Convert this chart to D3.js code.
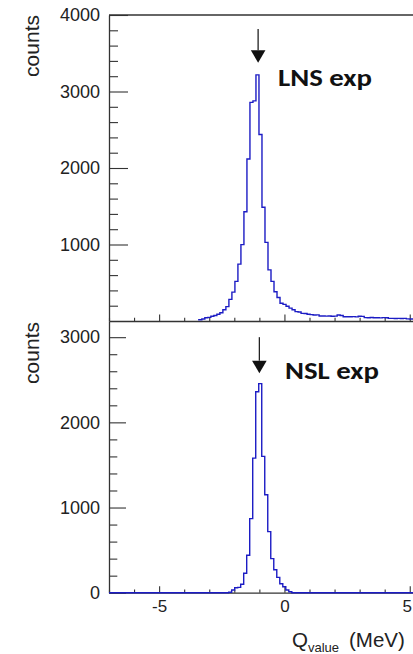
<!DOCTYPE html>
<html>
<head>
<meta charset="utf-8">
<script src="https://cdn.jsdelivr.net/npm/d3@7"></script>
<style>
  body { margin: 0; background: #fff; }
  svg { display: block; }
  .tick text { fill: #222; }
</style>
</head>
<body>
<div id="chart-area"></div>
<script>
// Q-value histograms, two panels sharing the x axis
const BIN_WIDTH = 0.12  // MeV

// top panel (LNS)
const lnsStart = -3.416
const lnsCounts = [8, 18, 35, 40, 55, 65, 80, 100, 140, 180, 275, 370, 510, 735, 990, 1420,
  2110, 2850, 2870, 3210, 2430, 1480, 1020, 660, 510, 375, 300, 225, 210, 185, 160, 140,
  115, 110, 92, 90, 80, 76, 70, 72, 58, 57, 56, 58, 55, 56, 70, 65, 48, 48, 47, 50, 46,
  55, 52, 36, 35, 37, 34, 35, 33, 36, 34, 26, 27, 25, 26, 24, 26, 20, 19, 20]

// bottom panel (NSL)
const nslStart = -2.2255
const nslCounts = [5, 32, 59, 62, 100, 228, 440, 870, 1580, 2360, 2455, 1600, 1150, 717,
  400, 270, 180, 105, 70, 32, 12]

const xTicksMajor = [-5, 0, 5]
const xTicksMinor = [-7, -6, -4, -3, -2, -1, 1, 2, 3, 4]
const topMajor = [1000, 2000, 3000, 4000]
const botMajor = [0, 1000, 2000, 3000]
const topMinor = d3.range(200, 4000, 200).filter(d => d % 1000 !== 0)
const botMinor = d3.range(200, 3000, 200).filter(d => d % 1000 !== 0)

const panels = [
  { label: "LNS exp", arrowQ: -1.05, arrowFrom: 3817, arrowTo: 3376 },
  { label: "NSL exp", arrowQ: -1.0, arrowFrom: 3000, arrowTo: 2577 }
]

const W = 413, H = 654
const LEFT = 109, RIGHT = 413
const TOP1 = 15, MID = 321, BOT = 592.7

const svg = d3.select("#chart-area").append("svg")
  .attr("width", W)
  .attr("height", H)

const x = d3.scaleLinear().domain([-7, 5.13]).range([LEFT, RIGHT])
const yTop = d3.scaleLinear().domain([0, 4000]).range([MID, TOP1])
const yBot = d3.scaleLinear().domain([0, 3190]).range([BOT, MID])

const FONT = "'Liberation Sans', Arial, Helvetica, sans-serif"
const AXIS_COLOR = "#333"
const HIST_COLOR = "#1c1cc4"
const plain = d => String(d)

function styleAxis(g) {
  g.selectAll("line").attr("stroke", AXIS_COLOR).attr("stroke-width", 1.1)
  g.selectAll(".domain").attr("stroke", AXIS_COLOR).attr("stroke-width", 1.3)
  g.selectAll("text").attr("font-family", FONT).attr("fill", "#222")
}

// y axes
function yAxes(y, major, minor, majLen, minLen) {
  const g = svg.append("g").attr("transform", `translate(${LEFT},0)`)
  g.call(d3.axisLeft(y).tickValues(minor).tickSize(-minLen).tickSizeOuter(0).tickFormat(""))
  g.select(".domain").remove()
  const g2 = svg.append("g").attr("transform", `translate(${LEFT},0)`)
    .call(d3.axisLeft(y).tickValues(major).tickSize(-majLen).tickSizeOuter(0).tickPadding(9)
      .tickFormat(plain))
    .attr("font-size", 18)
  styleAxis(g)
  styleAxis(g2)
}
yAxes(yTop, topMajor, topMinor, 19, 9)
yAxes(yBot, botMajor, botMinor, 17, 8.3)

// x axes (ticks in both panels, labels only at the bottom)
function xAxes(yPos, labels) {
  const gMin = svg.append("g").attr("transform", `translate(0,${yPos})`)
    .call(d3.axisBottom(x).tickValues(xTicksMinor).tickSize(-3.3).tickSizeOuter(0).tickFormat(""))
  gMin.select(".domain").remove()
  const gMaj = svg.append("g").attr("transform", `translate(0,${yPos})`)
    .call(d3.axisBottom(x).tickValues(xTicksMajor).tickSize(-6.5).tickSizeOuter(0).tickPadding(7)
      .tickFormat(labels ? plain : ""))
    .attr("font-size", 17)
  styleAxis(gMin)
  styleAxis(gMaj)
  // last label sits at the window edge, nudge it in so it stays readable
  gMaj.selectAll(".tick text").filter(d => d === 5).attr("dx", -3)
}
xAxes(MID, false)
xAxes(BOT, true)

// top frame line
svg.append("line")
  .attr("x1", LEFT).attr("x2", RIGHT)
  .attr("y1", TOP1).attr("y2", TOP1)
  .attr("stroke", AXIS_COLOR).attr("stroke-width", 1.3)

// histograms
function stepPoints(start, counts, padLeft, padRight) {
  const pts = []
  if (padLeft !== undefined) pts.push([padLeft, 0])
  pts.push([start, 0])
  counts.forEach((c, i) => {
    pts.push([start + i * BIN_WIDTH, c])
    pts.push([start + (i + 1) * BIN_WIDTH, c])
  })
  const end = start + counts.length * BIN_WIDTH
  pts.push([end, 0])
  if (padRight !== undefined) pts.push([padRight, 0])
  return pts
}

svg.append("defs").append("clipPath").attr("id", "clipTop")
  .append("rect").attr("x", LEFT).attr("y", TOP1).attr("width", RIGHT - LEFT).attr("height", MID - TOP1 + 1)

svg.append("path")
  .datum(stepPoints(lnsStart, lnsCounts))
  .attr("clip-path", "url(#clipTop)")
  .attr("fill", "none")
  .attr("stroke", HIST_COLOR)
  .attr("stroke-width", 1.4)
  .attr("d", d3.line().x(d => x(d[0])).y(d => yTop(d[1]) - 0.6))

svg.append("path")
  .datum(stepPoints(nslStart, nslCounts, -7, 5.13))
  .attr("fill", "none")
  .attr("stroke", HIST_COLOR)
  .attr("stroke-width", 1.4)
  .attr("d", d3.line().x(d => x(d[0])).y(d => yBot(d[1])))

// arrows and labels
const ys = [yTop, yBot]
panels.forEach((p, i) => {
  const y = ys[i]
  const ax = x(p.arrowQ)
  const tip = y(p.arrowTo)
  const headH = 12.5, headW = 7.3
  svg.append("line")
    .attr("x1", ax).attr("x2", ax)
    .attr("y1", y(p.arrowFrom)).attr("y2", tip - headH)
    .attr("stroke", "#222").attr("stroke-width", 1.3)
  svg.append("path")
    .attr("d", `M${ax - headW},${tip - headH}L${ax + headW},${tip - headH}L${ax},${tip}Z`)
    .attr("fill", "#111")
})

svg.append("text")
  .attr("x", 278).attr("y", 86)
  .attr("font-family", "Carlito, Lato, 'Open Sans', sans-serif")
  .attr("font-weight", "bold")
  .attr("font-size", 25)
  .attr("textLength", 94).attr("lengthAdjust", "spacingAndGlyphs")
  .attr("fill", "#111")
  .text(panels[0].label)

svg.append("text")
  .attr("x", 285).attr("y", 379.3)
  .attr("font-family", "Carlito, Lato, 'Open Sans', sans-serif")
  .attr("font-weight", "bold")
  .attr("font-size", 25)
  .attr("textLength", 94).attr("lengthAdjust", "spacingAndGlyphs")
  .attr("fill", "#111")
  .text(panels[1].label)

// y labels
svg.append("text")
  .attr("transform", `translate(39, ${TOP1}) rotate(-90)`)
  .attr("text-anchor", "end")
  .attr("font-family", FONT)
  .attr("font-size", 21)
  .attr("fill", "#222")
  .text("counts")

svg.append("text")
  .attr("transform", `translate(39, ${MID + 1}) rotate(-90)`)
  .attr("text-anchor", "end")
  .attr("font-family", FONT)
  .attr("font-size", 21)
  .attr("fill", "#222")
  .text("counts")

// x label: Q_value (MeV)
const xl = svg.append("text")
  .attr("x", 292).attr("y", 646.5)
  .attr("font-family", FONT)
  .attr("font-size", 20.5)
  .attr("fill", "#222")
xl.append("tspan").text("Q")
xl.append("tspan").attr("font-size", 13).attr("dy", 5.5).text("value")
xl.append("tspan").attr("dy", -5.5).attr("x", 349).text("(MeV)")
</script>
</body>
</html>
